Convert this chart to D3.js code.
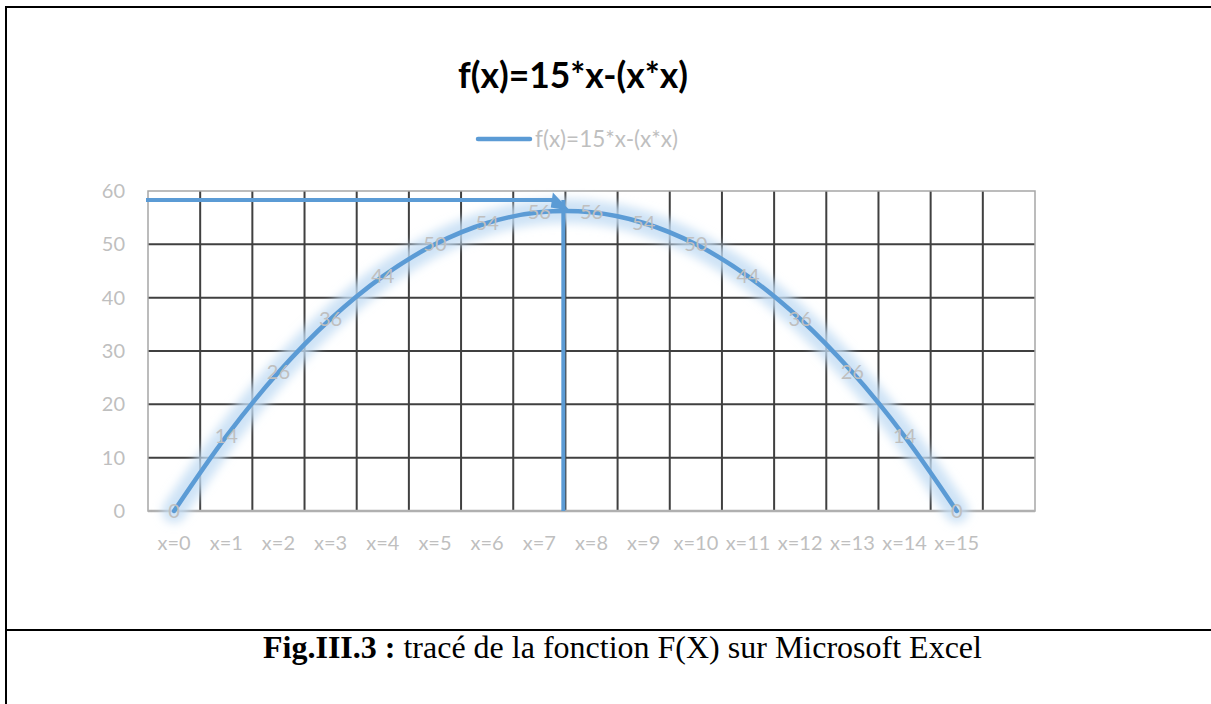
<!DOCTYPE html>
<html>
<head>
<meta charset="utf-8">
<script src="https://cdn.jsdelivr.net/npm/d3@7"></script>
<style>
  body { margin: 0; background: #fff; }
  svg { display: block; }
</style>
</head>
<body>
<div id="chart"></div>
<script>
// data
var categories = ["x=0","x=1","x=2","x=3","x=4","x=5","x=6","x=7","x=8","x=9","x=10","x=11","x=12","x=13","x=14","x=15",""];
var values = [0,14,26,36,44,50,54,56,56,54,50,44,36,26,14,0];
var yTicks = [0,10,20,30,40,50,60];
var seriesName = "f(x)=15*x-(x*x)";
var captionBold = "Fig.III.3 :";
var captionText = " tracé de la fonction F(X) sur Microsoft Excel";
// hand drawn arrow: (category position, value)
var arrowLevel = 58.3;
var arrowPos = 7.46;
var arrowHead = [[7.26, 59.7], [7.59, 56.3], [7.22, 56.9]];

var W = 1211, H = 704;
var svg = d3.select("#chart").append("svg").attr("width", W).attr("height", H);

// shrink/grow a text node so it spans a given width
function fitWidth(sel, target) {
  var fs = parseFloat(sel.attr("font-size"));
  var w = sel.node().getComputedTextLength();
  if (w > 0) sel.attr("font-size", (fs * target / w).toFixed(2));
}

// page frame
svg.append("line").attr("x1", 5).attr("x2", W).attr("y1", 7).attr("y2", 7).attr("stroke", "#000").attr("stroke-width", 2);
svg.append("line").attr("x1", 6).attr("x2", 6).attr("y1", 6).attr("y2", H).attr("stroke", "#000").attr("stroke-width", 2);
svg.append("line").attr("x1", 5).attr("x2", W).attr("y1", 630).attr("y2", 630).attr("stroke", "#000").attr("stroke-width", 2);

var L = 148, R = 1035, T = 191, B = 511;
var x = d3.scaleLinear().domain([-0.5, categories.length - 0.5]).range([L, R]);
var y = d3.scaleLinear().domain([0, 60]).range([B, T]);

var defs = svg.append("defs");
var glow = defs.append("filter").attr("id", "glow").attr("x", "-10%").attr("y", "-30%").attr("width", "120%").attr("height", "160%");
glow.append("feGaussianBlur").attr("stdDeviation", 5);

// grid
var grid = svg.append("g");
grid.selectAll(".hg").data(yTicks.filter(function(d){ return d > 0 && d < 60; }))
  .enter().append("line")
  .attr("x1", L).attr("x2", R)
  .attr("y1", function(d){ return y(d); }).attr("y2", function(d){ return y(d); })
  .attr("stroke", "#404040").attr("stroke-width", 2);
grid.selectAll(".vg").data(d3.range(1, categories.length))
  .enter().append("line")
  .attr("x1", function(d){ return x(d - 0.5); }).attr("x2", function(d){ return x(d - 0.5); })
  .attr("y1", T).attr("y2", B)
  .attr("stroke", "#404040").attr("stroke-width", 2);
// plot border (light)
svg.append("rect").attr("x", L).attr("y", T).attr("width", R - L).attr("height", B - T)
  .attr("fill", "none").attr("stroke", "#a6a6a6").attr("stroke-width", 1.5);
svg.append("line").attr("x1", L).attr("x2", R).attr("y1", B).attr("y2", B)
  .attr("stroke", "#b0b0b0").attr("stroke-width", 2.5);

// y axis labels
svg.append("g").selectAll("text").data(yTicks).enter().append("text")
  .attr("x", L - 23).attr("y", function(d){ return y(d); })
  .attr("dy", "0.35em").attr("text-anchor", "end")
  .attr("font-family", "Lato, 'Open Sans', sans-serif").attr("font-size", 20)
  .attr("fill", "#bfbfbf").text(function(d){ return d; });

// x axis labels
svg.append("g").selectAll("text").data(categories).enter().append("text")
  .attr("x", function(d, i){ return x(i); }).attr("y", B + 32)
  .attr("dy", "0.35em").attr("text-anchor", "middle")
  .attr("font-family", "Lato, 'Open Sans', sans-serif").attr("font-size", 20)
  .attr("fill", "#bfbfbf").text(function(d){ return d; });

// series
var line = d3.line()
  .x(function(d, i){ return x(i); })
  .y(function(d){ return y(d); })
  .curve(d3.curveCatmullRom.alpha(0.5));

svg.append("path").datum(values).attr("d", line)
  .attr("fill", "none").attr("stroke", "#c2dcf4").attr("stroke-width", 24)
  .attr("stroke-opacity", 0.8).attr("stroke-linecap", "round")
  .attr("filter", "url(#glow)");

// hand drawn arrow
svg.append("line").attr("x1", x(-0.5) - 2).attr("x2", x(arrowHead[0][0]) + 2)
  .attr("y1", y(arrowLevel)).attr("y2", y(arrowLevel))
  .attr("stroke", "#5b9bd5").attr("stroke-width", 4);
svg.append("line").attr("x1", x(arrowPos)).attr("x2", x(arrowPos))
  .attr("y1", y(arrowLevel)).attr("y2", y(0))
  .attr("stroke", "#5b9bd5").attr("stroke-width", 4);
svg.append("path")
  .attr("d", d3.line().x(function(d){ return x(d[0]); }).y(function(d){ return y(d[1]); })(arrowHead) + "Z")
  .attr("fill", "#5b9bd5");

svg.append("path").datum(values).attr("d", line)
  .attr("fill", "none").attr("stroke", "#5b9bd5").attr("stroke-width", 4.5)
  .attr("stroke-linecap", "round").attr("stroke-linejoin", "round");

// data labels, centred on the points
svg.append("g").selectAll("text").data(values).enter().append("text")
  .attr("x", function(d, i){ return x(i); }).attr("y", function(d){ return y(d); })
  .attr("dy", "0.35em").attr("text-anchor", "middle")
  .attr("font-family", "Lato, 'Open Sans', sans-serif").attr("font-size", 20)
  .attr("fill", "#bfbfbf").text(function(d){ return d; });

// title
var title = svg.append("text").attr("x", 573).attr("y", 88).attr("text-anchor", "middle")
  .attr("font-family", "Lato, 'Open Sans', sans-serif").attr("font-weight", "bold")
  .attr("font-size", 34).attr("fill", "#000").text(seriesName);
fitWidth(title, 230);

// legend
svg.append("line").attr("x1", 478).attr("x2", 530).attr("y1", 139).attr("y2", 139)
  .attr("stroke", "#5b9bd5").attr("stroke-width", 4.5).attr("stroke-linecap", "round");
var legText = svg.append("text").attr("x", 535).attr("y", 139).attr("dy", "0.35em")
  .attr("font-family", "Lato, 'Open Sans', sans-serif").attr("font-size", 22)
  .attr("fill", "#bfbfbf").text(seriesName);
fitWidth(legText, 143);

// caption
var cap = svg.append("text").attr("x", 263).attr("y", 658)
  .attr("font-family", "'Liberation Serif', 'Times New Roman', serif").attr("font-size", 32).attr("fill", "#000");
cap.append("tspan").attr("font-weight", "bold").text(captionBold);
cap.append("tspan").text(captionText);
</script>
</body>
</html>
